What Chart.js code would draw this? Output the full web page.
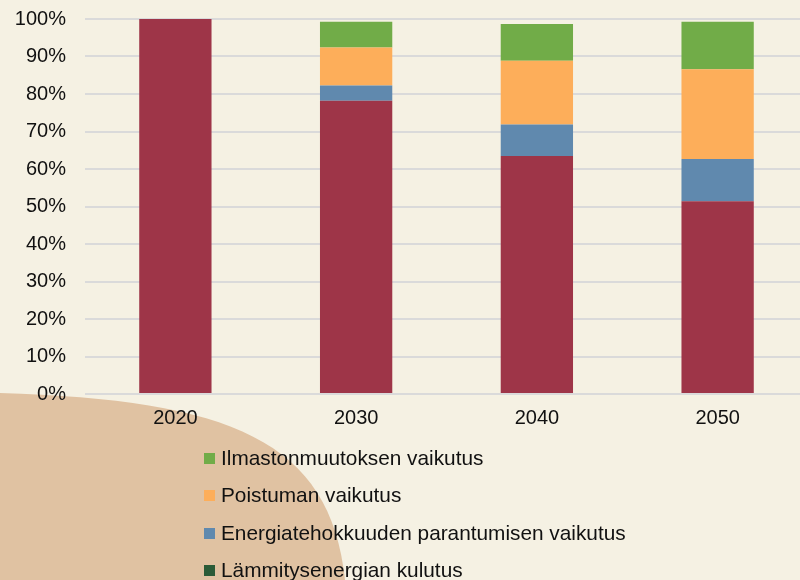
<!DOCTYPE html>
<html>
<head>
<meta charset="utf-8">
<script src="https://cdn.jsdelivr.net/npm/chart.js@4/dist/chart.umd.min.js"></script>
<style>
  html, body { margin: 0; padding: 0; background: #F5F1E3; overflow: hidden; }
  #wrap { position: relative; width: 800px; height: 580px; overflow: hidden; background: #F5F1E3; }
  #c { position: absolute; left: 0; top: 0; }
  #legend { position: absolute; left: 204px; top: 440px; font-family: "Liberation Sans", Arial, sans-serif; font-size: 20.8px; color: #111; }
  .item { position: absolute; left: 0; white-space: nowrap; height: 24px; line-height: 24px; }
  .box { position: absolute; left: 0; top: 7px; width: 11px; height: 11px; }
  .lbl { position: absolute; left: 17px; top: 0; }
</style>
</head>
<body>
<div id="wrap">
  <canvas id="c" width="808" height="580"></canvas>
  <div id="legend"></div>
</div>
<script>
const categories = ["2020", "2030", "2040", "2050"];
const seriesNames = [
  "Lämmitysenergian kulutus",
  "Energiatehokkuuden parantumisen vaikutus",
  "Poistuman vaikutus",
  "Ilmastonmuutoksen vaikutus"
];
const heatingConsumption = [100, 78.2, 63.5, 51.4];
const efficiencyEffect   = [0, 4.1, 8.4, 11.3];
const demolitionEffect   = [0, 10.1, 17.0, 23.9];
const climateEffect      = [0, 6.9, 9.8, 12.7];
const yTicks = [0, 10, 20, 30, 40, 50, 60, 70, 80, 90, 100];

const barColors = ["#9E3548", "#6089AE", "#FDAE5A", "#71AC48"];
const legendColors = ["#2B5B37", "#6089AE", "#FDAE5A", "#71AC48"];
const seriesValues = [heatingConsumption, efficiencyEffect, demolitionEffect, climateEffect];

const FONT = "'Liberation Sans', Arial, sans-serif";

const bgPlugin = {
  id: 'bg',
  beforeDraw(chart) {
    const ctx = chart.ctx;
    ctx.save();
    ctx.fillStyle = '#F5F1E3';
    ctx.fillRect(0, 0, chart.width, chart.height);
    ctx.fillStyle = '#E0C2A2';
    ctx.beginPath();
    ctx.moveTo(0, 393);
    ctx.bezierCurveTo(230, 400, 330, 440, 345, 580);
    ctx.lineTo(0, 580);
    ctx.closePath();
    ctx.fill();
    ctx.restore();
  }
};

const chart = new Chart(document.getElementById('c'), {
  type: 'bar',
  data: {
    labels: categories,
    datasets: seriesNames.map((name, i) => ({
      label: name,
      data: seriesValues[i],
      backgroundColor: barColors[i],
      borderWidth: 0,
      barPercentage: 0.4,
      categoryPercentage: 1.0
    }))
  },
  options: {
    responsive: false,
    animation: false,
    layout: { padding: { top: 19, bottom: 146, left: 0, right: 0 } },
    plugins: {
      legend: { display: false },
      tooltip: { enabled: false }
    },
    scales: {
      x: {
        stacked: true,
        grid: { display: false, drawTicks: false },
        border: { display: false },
        ticks: { color: '#111', font: { family: FONT, size: 20 }, padding: 12 },
        afterFit(scale) { scale.height = 40; scale.paddingLeft = 0; scale.paddingRight = 0; }
      },
      y: {
        stacked: true,
        min: 0,
        max: 100,
        afterBuildTicks(scale) { scale.ticks = yTicks.map(v => ({ value: v })); },
        grid: { color: '#DADADA', lineWidth: 2, drawTicks: false },
        border: { display: false },
        ticks: {
          color: '#111',
          font: { family: FONT, size: 20 },
          padding: 19,
          callback: v => v + '%'
        },
        afterFit(scale) { scale.width = 85; scale.paddingTop = 0; scale.paddingBottom = 0; }
      }
    }
  },
  plugins: [bgPlugin]
});

// HTML legend (reverse order, as in the reference)
const legend = document.getElementById('legend');
const tops = [6, 43, 81, 118];
const order = [3, 2, 1, 0];
order.forEach((idx, k) => {
  const item = document.createElement('div');
  item.className = 'item';
  item.style.top = tops[k] + 'px';
  const box = document.createElement('span');
  box.className = 'box';
  box.style.background = legendColors[idx];
  const lbl = document.createElement('span');
  lbl.className = 'lbl';
  lbl.textContent = chart.data.datasets[idx].label;
  item.appendChild(box);
  item.appendChild(lbl);
  legend.appendChild(item);
});
</script>
</body>
</html>
